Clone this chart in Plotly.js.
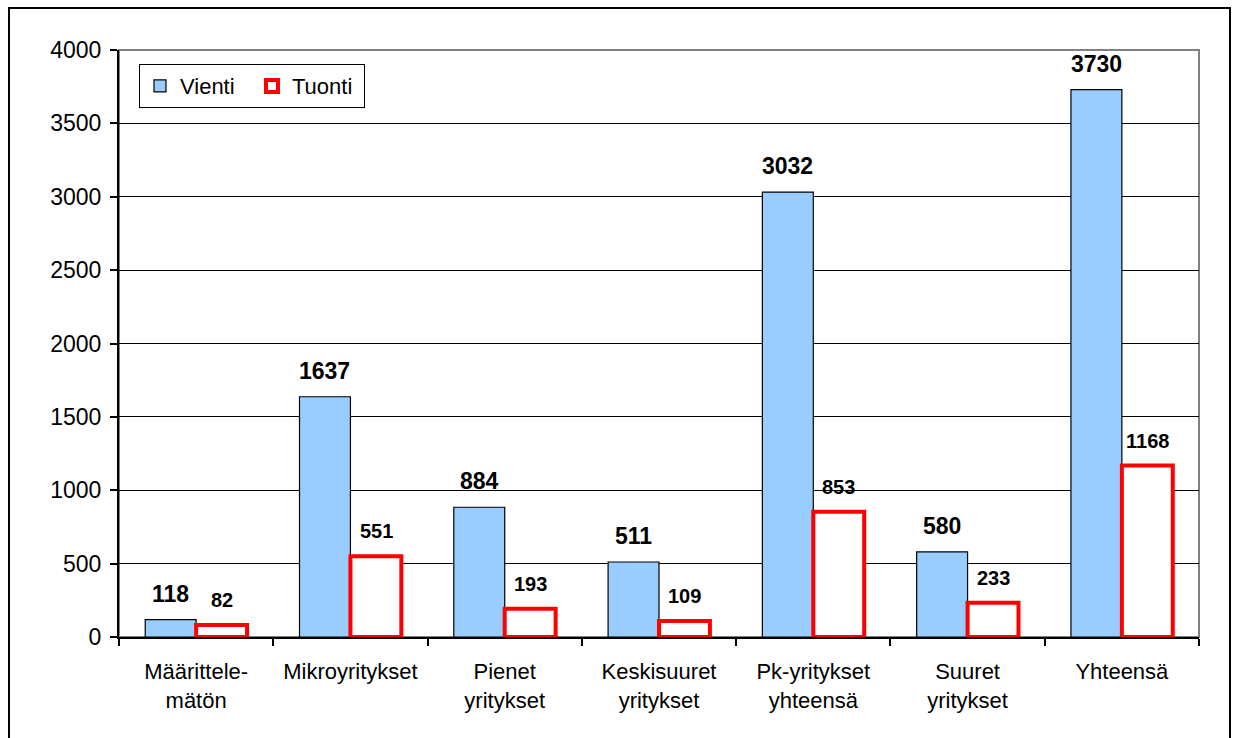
<!DOCTYPE html>
<html>
<head>
<meta charset="utf-8">
<script src="https://cdn.plot.ly/plotly-3.0.1.min.js"></script>
<style>
  body { margin: 0; background: #fff; }
  #chart { width: 1241px; height: 738px; }
  #frame { position: absolute; left: 8px; top: 7px; width: 1223px; height: 740px;
           border: 2px solid #000; pointer-events: none; box-sizing: border-box; }
</style>
</head>
<body>
<div id="chart"></div>
<div id="frame"></div>
<script>
const categories = ['Määrittele-<br>mätön', 'Mikroyritykset', 'Pienet<br>yritykset',
  'Keskisuuret<br>yritykset', 'Pk-yritykset<br>yhteensä', 'Suuret<br>yritykset', 'Yhteensä'];
const vienti = [118, 1637, 884, 511, 3032, 580, 3730];
const tuonti = [82, 551, 193, 109, 853, 233, 1168];

const FONT = 'Arial, "Liberation Sans", sans-serif';
const BAR_SHIFT = 25.7;

const traces = [
  {
    x: categories, y: vienti, name: 'Vienti', type: 'bar',
    marker: { color: '#99CCFF', line: { color: '#000', width: 1.2 } },
  },
  {
    x: categories, y: tuonti, name: 'Tuonti', type: 'bar',
    marker: { color: '#FFFFFF', line: { color: '#FF0000', width: 4 } },
  },
];

const annotations = [];
categories.forEach((c, i) => {
  annotations.push({
    x: c, y: vienti[i], xref: 'x', yref: 'y', text: '<b>' + vienti[i] + '</b>',
    showarrow: false, yanchor: 'bottom', xshift: -BAR_SHIFT, yshift: 11,
    font: { family: FONT, size: 23, color: '#000' },
  });
  annotations.push({
    x: c, y: tuonti[i], xref: 'x', yref: 'y', text: '<b>' + tuonti[i] + '</b>',
    showarrow: false, yanchor: 'bottom', xshift: BAR_SHIFT, yshift: 12,
    font: { family: FONT, size: 20, color: '#000' },
  });
});

const layout = {
  width: 1241, height: 738,
  paper_bgcolor: '#fff', plot_bgcolor: '#fff',
  font: { family: FONT, color: '#000', size: 22 },
  margin: { t: 50, r: 42, b: 101, l: 119 },
  barmode: 'group', bargap: 0.34, bargroupgap: 0,
  showlegend: true,
  legend: {
    orientation: 'h', x: 0.0185, y: 0.976, xanchor: 'left', yanchor: 'top',
    bgcolor: '#fff', bordercolor: '#000', borderwidth: 1,
    font: { family: FONT, size: 22 }, itemwidth: 30, entrywidth: 67,
  },
  xaxis: {
    type: 'category', tickson: 'boundaries', ticks: 'outside', ticklen: 7,
    tickcolor: '#000', tickwidth: 1.5, showline: true, linecolor: '#000', linewidth: 2,
    showgrid: false, ticklabelstandoff: 14,
    tickfont: { family: FONT, size: 22 },
  },
  yaxis: {
    range: [0, 4000], dtick: 500, ticks: 'outside', ticklen: 7,
    tickcolor: '#000', tickwidth: 1.5, showline: true, linecolor: '#000', linewidth: 2,
    gridcolor: '#000', gridwidth: 1, zeroline: false, ticklabelstandoff: 4,
    tickfont: { family: FONT, size: 23 },
  },
  shapes: [{
    type: 'rect', xref: 'paper', yref: 'paper', x0: 0, x1: 1, y0: 0, y1: 1,
    line: { color: '#808080', width: 2 }, layer: 'below',
  }],
  annotations: annotations,
};

Plotly.newPlot('chart', traces, layout, { displayModeBar: false, responsive: false });
</script>
</body>
</html>
